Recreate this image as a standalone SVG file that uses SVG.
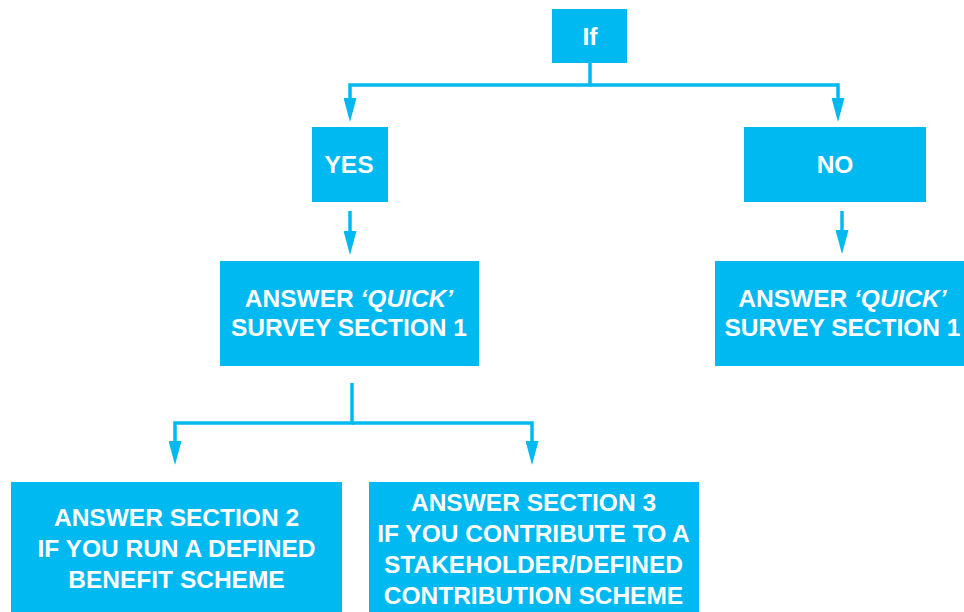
<svg xmlns="http://www.w3.org/2000/svg" width="964" height="612" viewBox="0 0 964 612">
<defs>
<style>
.box{fill:#00B9F1}
.t{fill:#fff;font-family:"Liberation Sans",Arial,Helvetica,sans-serif;font-weight:bold;font-size:24.5px;text-anchor:middle}
.c{fill:none;stroke:#00B9F1;stroke-width:3.5}
</style>
<marker id="ah" viewBox="0 0 24 13" refX="14" refY="6.5" markerWidth="24" markerHeight="13" markerUnits="userSpaceOnUse" orient="auto">
<path d="M0,0 L24,6.5 L0,13 Z" fill="#00B9F1"/>
</marker>
</defs>
<rect width="964" height="612" fill="#fff"/>
<g id="connectors">
<path class="c" d="M590 63 V85 H350 V112" marker-end="url(#ah)"/>
<path class="c" d="M590 85 H838 V112" marker-end="url(#ah)"/>
<path class="c" d="M350 211 V245" marker-end="url(#ah)"/>
<path class="c" d="M842 211 V244" marker-end="url(#ah)"/>
<path class="c" d="M352 383 V423 H175 V455" marker-end="url(#ah)"/>
<path class="c" d="M352 423 H532 V455" marker-end="url(#ah)"/>
</g>
<g id="if">
<rect class="box" x="552" y="9" width="75" height="54"/>
<text class="t" x="590" y="45">If</text>
</g>
<g id="yes">
<rect class="box" x="312" y="127" width="76" height="75"/>
<text class="t" x="349" y="173">YES</text>
</g>
<g id="no">
<rect class="box" x="744" y="127" width="182" height="75"/>
<text class="t" x="835" y="173">NO</text>
</g>
<g id="quick-yes">
<rect class="box" x="220" y="261" width="259" height="105"/>
<text class="t" x="349" y="306.5">ANSWER <tspan font-style="italic">‘QUICK’</tspan></text>
<text class="t" x="349" y="336">SURVEY SECTION 1</text>
</g>
<g id="quick-no">
<rect class="box" x="715" y="261" width="255" height="105"/>
<text class="t" x="842.5" y="306.5">ANSWER <tspan font-style="italic">‘QUICK’</tspan></text>
<text class="t" x="842.5" y="336">SURVEY SECTION 1</text>
</g>
<g id="section2">
<rect class="box" x="11" y="482" width="331" height="130"/>
<text class="t" x="176.5" y="526">ANSWER SECTION 2</text>
<text class="t" x="176.5" y="557">IF YOU RUN A DEFINED</text>
<text class="t" x="176.5" y="588">BENEFIT SCHEME</text>
</g>
<g id="section3">
<rect class="box" x="369" y="482" width="330" height="130"/>
<text class="t" x="533.5" y="510.5">ANSWER SECTION 3</text>
<text class="t" x="533.5" y="542">IF YOU CONTRIBUTE TO A</text>
<text class="t" x="533.5" y="573">STAKEHOLDER/DEFINED</text>
<text class="t" x="533.5" y="604">CONTRIBUTION SCHEME</text>
</g>
</svg>
